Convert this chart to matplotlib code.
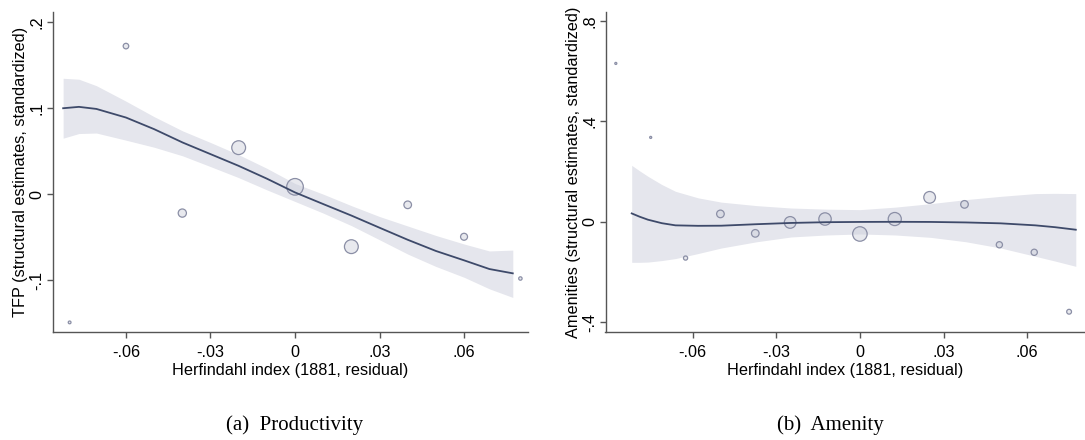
import matplotlib
matplotlib.use("Agg")
import matplotlib.pyplot as plt
from matplotlib.ticker import FuncFormatter

plt.rcParams['font.family'] = ['Liberation Sans', 'DejaVu Sans']

# ---------------- Panel (a): Productivity ----------------
a_x = [-0.080, -0.060, -0.040, -0.020, 0.000, 0.020, 0.040, 0.060, 0.080]
a_y = [-0.149, 0.172, -0.022, 0.054, 0.0085, -0.061, -0.0124, -0.0495, -0.098]
a_w = [4, 16, 35, 99, 143, 99, 30, 25, 6]

a_fx = [-0.0823, -0.0767, -0.0705, -0.060, -0.050, -0.0399, -0.030, -0.0201, -0.010, 0.000,
        0.010, 0.0201, 0.030, 0.040, 0.050, 0.0601, 0.069, 0.0773]
a_fy = [0.0998, 0.1014, 0.099, 0.089, 0.0755, 0.060, 0.0465, 0.033, 0.018, 0.002,
        -0.0115, -0.025, -0.039, -0.053, -0.066, -0.077, -0.087, -0.092]
a_hi = [0.1346, 0.1335, 0.126, 0.108, 0.090, 0.0735, 0.060, 0.046, 0.030, 0.0124,
        0.000, -0.0135, -0.026, -0.037, -0.048, -0.058, -0.066, -0.065]
a_lo = [0.065, 0.0704, 0.071, 0.0627, 0.0545, 0.0445, 0.032, 0.0193, 0.005, -0.0085,
        -0.022, -0.0367, -0.053, -0.0696, -0.084, -0.0967, -0.110, -0.120]

a_xticks = [-0.06, -0.03, 0, 0.03, 0.06]
a_yticks = [-0.1, 0, 0.1, 0.2]

# ---------------- Panel (b): Amenity ----------------
b_x = [-0.0875, -0.075, -0.0625, -0.050, -0.0375, -0.025, -0.0125, 0.000,
       0.0125, 0.025, 0.0375, 0.050, 0.0625, 0.075]
b_y = [0.631, 0.336, -0.145, 0.031, -0.0465, -0.003, 0.0106, -0.049,
       0.0106, 0.097, 0.069, -0.092, -0.122, -0.359]
b_w = [2.2, 2.2, 9, 30, 30, 71, 80, 109, 89, 71, 30, 20, 20, 12]

b_fx = [-0.0818, -0.079, -0.076, -0.071, -0.0661, -0.058, -0.0497, -0.037, -0.0247, -0.012,
        0.000, 0.0127, 0.0254, 0.038, 0.0505, 0.0629, 0.070, 0.0774]
b_fy = [0.033, 0.020, 0.008, -0.006, -0.0146, -0.0165, -0.016, -0.010, -0.005, -0.002,
        -0.001, -0.0005, -0.001, -0.003, -0.0066, -0.0146, -0.022, -0.032]
b_hi = [0.2246, 0.203, 0.181, 0.148, 0.121, 0.095, 0.078, 0.064, 0.0545, 0.050,
        0.048, 0.058, 0.072, 0.088, 0.101, 0.112, 0.113, 0.112]
b_lo = [-0.162, -0.162, -0.161, -0.155, -0.147, -0.127, -0.105, -0.080, -0.061, -0.053,
        -0.049, -0.053, -0.0625, -0.080, -0.105, -0.138, -0.157, -0.178]

b_xticks = [-0.06, -0.03, 0, 0.03, 0.06]
b_yticks = [-0.4, 0, 0.4, 0.8]

xlabel = "Herfindahl index (1881, residual)"
a_ylabel = "TFP (structural estimates, standardized)"
b_ylabel = "Amenities (structural estimates, standardized)"
captions = ["(a)  Productivity", "(b)  Amenity"]


def stata_fmt(v, pos=None):
    if abs(v) < 1e-12:
        return "0"
    s = ("%.2f" % v).rstrip("0")
    s = s.replace("0.", ".")
    return s


W, H = 1085, 440
fig = plt.figure(figsize=(W / 100, H / 100), dpi=100)

line_c = "#3e4a6a"
band_c = "#e5e6ed"
mk_edge = "#8b8fa6"
mk_face = (0.80, 0.81, 0.86, 0.45)
spine_c = "#555555"
FS = 11.7


def panel(rect, x, y, w, fx, fy, lo, hi, xt, yt, xlim, ylim, ylab):
    ax = fig.add_axes(rect)
    ax.fill_between(fx, lo, hi, color=band_c, lw=0, zorder=1)
    ax.scatter(x, y, s=w, facecolors=[mk_face], edgecolors=mk_edge, linewidths=0.9, zorder=2)
    ax.plot(fx, fy, color=line_c, lw=1.3, zorder=3)
    ax.set_xlim(*xlim)
    ax.set_ylim(*ylim)
    ax.set_xticks(xt)
    ax.set_yticks(yt)
    ax.xaxis.set_major_formatter(FuncFormatter(stata_fmt))
    ax.yaxis.set_major_formatter(FuncFormatter(stata_fmt))
    for s in ["top", "right"]:
        ax.spines[s].set_visible(False)
    for s in ["left", "bottom"]:
        ax.spines[s].set_color(spine_c)
        ax.spines[s].set_linewidth(1.0)
    ax.tick_params(axis="both", direction="out", length=4, width=1.0, color=spine_c,
                   labelsize=FS, labelcolor="black", pad=2)
    ax.tick_params(axis="x", pad=5)
    ax.tick_params(axis="y", labelrotation=90)
    for lab in ax.get_yticklabels():
        lab.set_va("center")
    ax.set_xlabel(xlabel, fontsize=FS, labelpad=2.5)
    ax.set_ylabel(ylab, fontsize=FS, labelpad=1)
    return ax


axA = panel([53 / W, 1 - 332.3 / H, (528 - 53) / W, (332.3 - 12) / H],
            a_x, a_y, a_w, a_fx, a_fy, a_lo, a_hi, a_xticks, a_yticks,
            (-0.0859, 0.0827), (-0.1605, 0.2116), a_ylabel)
axB = panel([605.5 / W, 1 - 332.3 / H, (1085 - 605.5) / W, (332.3 - 12) / H],
            b_x, b_y, b_w, b_fx, b_fy, b_lo, b_hi, b_xticks, b_yticks,
            (-0.0912, 0.0807), (-0.441, 0.836), b_ylabel)

fig.text(295 / W, 1 - 425 / H, captions[0], family=["Liberation Serif", "DejaVu Serif"],
         fontsize=15, ha="center", va="center")
fig.text(830 / W, 1 - 425 / H, captions[1], family=["Liberation Serif", "DejaVu Serif"],
         fontsize=15, ha="center", va="center")

fig.savefig("out.png", dpi=100)
